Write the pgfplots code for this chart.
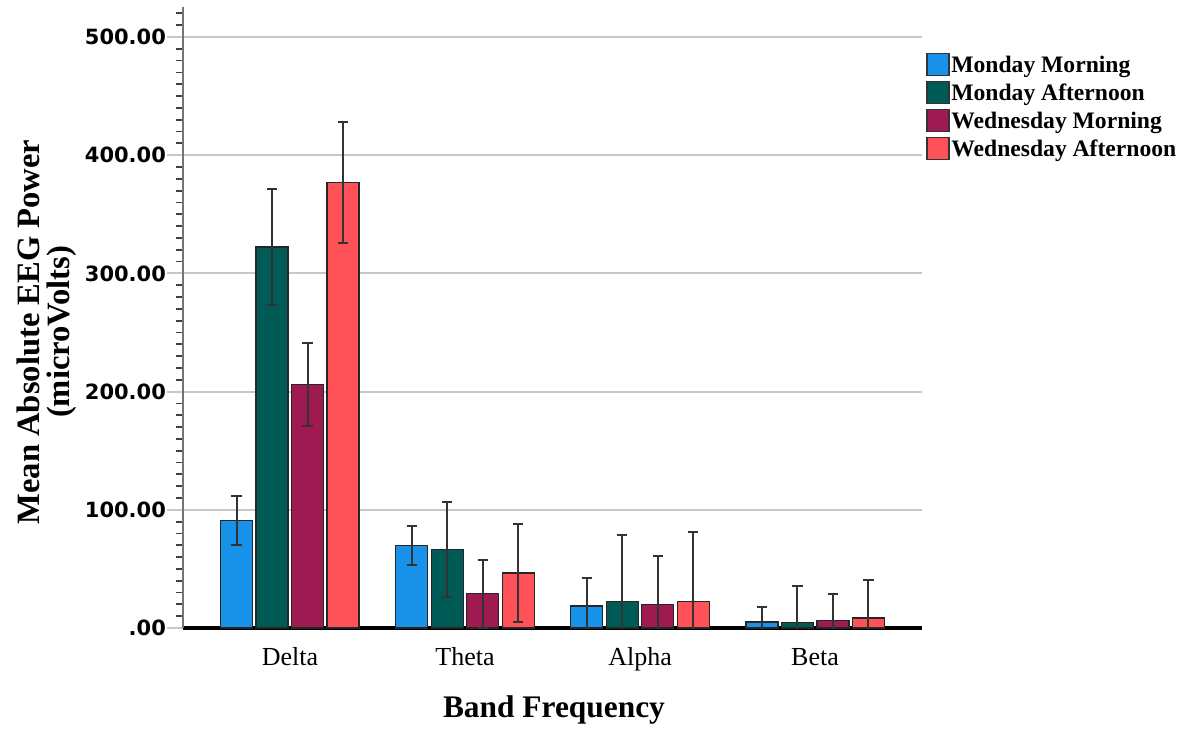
\documentclass[border=0pt]{standalone}
\usepackage{fontspec}
\setmainfont{Liberation Serif}
\newfontfamily\tickfont{DejaVu Sans}
\usepackage{pgfplots}
\pgfplotsset{compat=1.18}
\definecolor{cMM}{RGB}{24,145,232}
\definecolor{cMA}{RGB}{0,90,86}
\definecolor{cWM}{RGB}{158,26,80}
\definecolor{cWA}{RGB}{255,82,88}
\definecolor{gridc}{RGB}{200,200,200}
\begin{document}
\begin{tikzpicture}
\begin{axis}[
  scale only axis,
  width=369.5pt, height=310.3pt,
  xmin=-0.611, xmax=3.611,
  ymin=0, ymax=525,
  ybar=1.75pt, bar width=16pt,
  axis lines*=left,
  x axis line style={black, line width=2pt},
  y axis line style={black!55, line width=0.8pt},
  xtick={0,1,2,3},
  xticklabels={Delta,Theta,Alpha,Beta},
  xtick style={draw=none},
  xticklabel style={font=\fontsize{13}{13}\selectfont, anchor=base, yshift=-10.5pt},
  ytick={0,100,200,300,400,500},
  yticklabels={.00,100.00,200.00,300.00,400.00,500.00},
  minor ytick={10,20,...,520},
  tick align=outside,
  major tick length=8pt,
  minor tick length=3.5pt,
  major tick style={gridc, line width=1pt},
  minor tick style={black!75, line width=0.9pt},
  yticklabel style={font=\tickfont\bfseries\fontsize{10.5}{10.5}\selectfont, anchor=east, xshift=3pt},
  ymajorgrids,
  major grid style={gridc, line width=1pt},
  xlabel={Band Frequency},
  xlabel style={font=\bfseries\fontsize{15.7}{15.7}\selectfont, at={(axis description cs:0.502,0)}, anchor=center, yshift=-41pt},
  ylabel={Mean Absolute EEG Power\\(microVolts)},
  ylabel style={font=\bfseries\fontsize{16.3}{15}\selectfont, align=center, at={(axis description cs:-0.185,0.477)}, anchor=center},
  legend style={at={(axis description cs:1,1)}, anchor=north west, xshift=2pt, yshift=-22.5pt,
    draw=none, fill=none, font=\bfseries\fontsize{11.8}{11.8}\selectfont,
    row sep=2pt, inner sep=0pt, nodes={inner sep=0.8pt}},
  legend cell align=left,
  legend image code/.code={\draw[#1, draw=black!80, line width=0.7pt] (0pt,-5pt) rectangle (11pt,6pt);},
  error bars/y dir=both, error bars/y explicit,
  error bars/error bar style={black!80, line width=1pt},
  error bars/error mark options={black!80, line width=1pt, mark size=2.6pt, rotate=90},
]
\addplot[fill=cMM, draw=black!85, line width=0.7pt] coordinates {
  (0,91.0) +- (0,20.4)
  (1,69.7) +- (0,16.8)
  (2,18.6) +- (0,23.7)
  (3,5.1)  +- (0,12.9)
};
\addplot[fill=cMA, draw=black!85, line width=0.7pt] coordinates {
  (0,322.4) +- (0,49.0)
  (1,66.3)  +- (0,40.2)
  (2,22.3)  +- (0,56.4)
  (3,4.5)   +- (0,31.3)
};
\addplot[fill=cWM, draw=black!85, line width=0.7pt] coordinates {
  (0,206.1) +- (0,35.2)
  (1,29.0)  +- (0,28.8)
  (2,20.0)  +- (0,40.9)
  (3,6.2)   +- (0,22.6)
};
\addplot[fill=cWA, draw=black!85, line width=0.7pt] coordinates {
  (0,376.9) +- (0,51.2)
  (1,46.5)  +- (0,41.7)
  (2,22.3)  +- (0,59.2)
  (3,8.5)   +- (0,32.1)
};
\legend{Monday Morning,Monday Afternoon,Wednesday Morning,Wednesday Afternoon}
\end{axis}
\pgfresetboundingbox
\path (-91.5pt,-50.5pt) rectangle (499pt,314pt);
\end{tikzpicture}
\end{document}
